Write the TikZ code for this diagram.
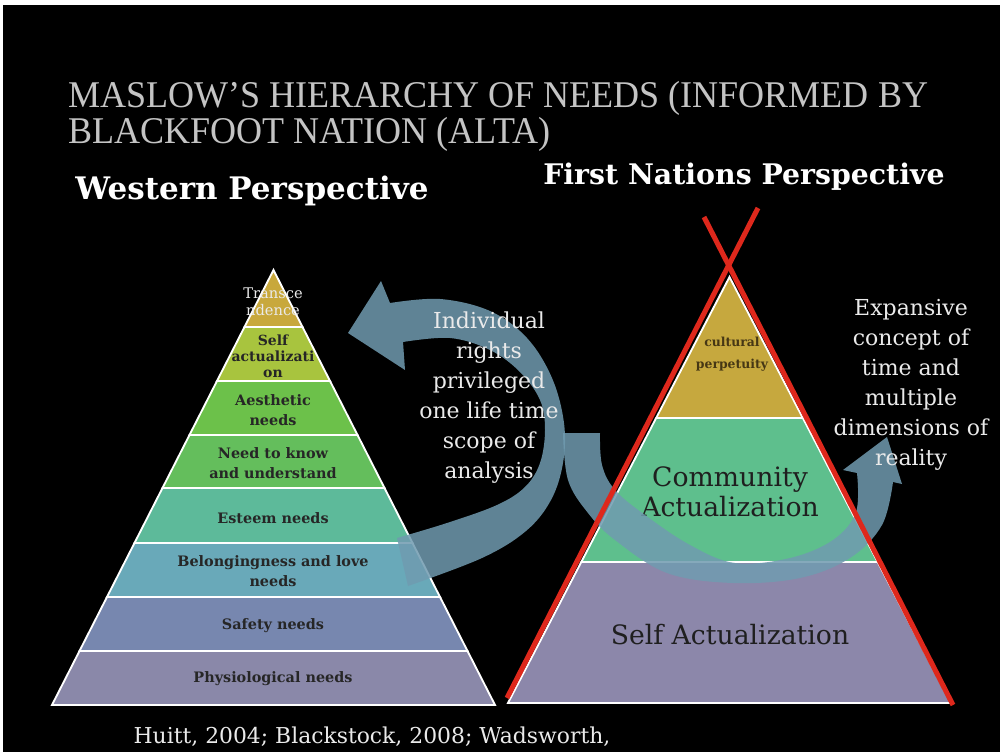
\documentclass[tikz,border=0pt]{standalone}
\usepackage{fontspec}
\usepackage{graphicx}
\newfontfamily\djs{DejaVu Serif}
\newfontfamily\libs{Liberation Serif}
\definecolor{cTrans}{RGB}{200,168,60}
\definecolor{cSelf}{RGB}{168,196,62}
\definecolor{cAes}{RGB}{108,193,74}
\definecolor{cKnow}{RGB}{100,190,92}
\definecolor{cEst}{RGB}{93,186,154}
\definecolor{cBel}{RGB}{105,169,185}
\definecolor{cSaf}{RGB}{119,135,175}
\definecolor{cPhy}{RGB}{138,136,169}
\definecolor{rGold}{RGB}{198,168,62}
\definecolor{rGreen}{RGB}{94,191,141}
\definecolor{rLav}{RGB}{140,135,170}
\definecolor{arrowcol}{RGB}{112,155,176}
\definecolor{redx}{RGB}{222,40,28}
\definecolor{titlegrey}{RGB}{196,196,196}
\definecolor{lbltext}{RGB}{38,38,38}
\definecolor{softwhite}{RGB}{234,234,234}
\tikzset{
  band/.style={draw=white, line width=1.4pt, line join=miter},
  lbl/.style={font=\djs\bfseries\fontsize{10.8}{15}\selectfont, text=lbltext, align=center, inner sep=0pt},
  bigarrow/.style={fill=arrowcol, fill opacity=0.85},
  para/.style={font=\djs\fontsize{16.5}{22.5}\selectfont, text=softwhite, align=center, inner sep=0pt},
  redline/.style={draw=redx, line width=3.8pt},
  bigl/.style={font=\djs\fontsize{20}{22.5}\selectfont, text=black!88, align=center, inner sep=0pt}
}
\begin{document}
\begin{tikzpicture}[x=0.75pt,y=-0.75pt]
\useasboundingbox (0,0) rectangle (1000,756);
\fill[white] (0,0) rectangle (1000,756);
\fill[black] (3,5) rectangle (1000,752);

% headings
\node[anchor=base west, inner sep=0pt, text=titlegrey] (title) at (68,108)
  {\scalebox{0.955}[1]{\libs\fontsize{28.3}{24}\selectfont\begin{tabular}[t]{@{}l@{}}MASLOW’S HIERARCHY OF NEEDS (INFORMED BY\\BLACKFOOT NATION (ALTA)\end{tabular}}};
\node[anchor=base west, inner sep=0pt, text=white] (west) at (75,200)
  {\resizebox{265pt}{!}{\djs\bfseries Western Perspective}};
\node[anchor=base west, inner sep=0pt, text=white] (first) at (543,185)
  {\resizebox{301pt}{!}{\djs\bfseries First Nations Perspective}};

% left pyramid
\foreach \ya/\yb/\c in {270/327/cTrans,327/381/cSelf,381/435/cAes,435/488/cKnow,488/543/cEst,543/597/cBel,597/651/cSaf,651/705/cPhy}{
  \pgfmathsetmacro\wa{(\ya-270)*0.5092}
  \pgfmathsetmacro\wb{(\yb-270)*0.5092}
  \filldraw[band, fill=\c] ({273.5-\wa},\ya) -- ({273.5+\wa},\ya) -- ({273.5+\wb},\yb) -- ({273.5-\wb},\yb) -- cycle;
}
\node[lbl, font=\djs\fontsize{11}{12.5}\selectfont, text=softwhite] (trans) at (273,302) {Transce\\ndence};
\node[lbl, font=\djs\bfseries\fontsize{10.5}{12}\selectfont] (self) at (273,356) {Self\\actualizati\\on};
\node[lbl] (aes) at (273,410) {Aesthetic\\needs};
\node[lbl] (know) at (273,463) {Need to know\\and understand};
\node[lbl] (est) at (273,518) {Esteem needs};
\node[lbl] (bel) at (273,571) {Belongingness and love\\needs};
\node[lbl] (saf) at (273,626) {Safety needs};
\node[lbl] (phy) at (273,679) {Physiological needs};

% right pyramid
\foreach \ya/\yb/\c in {277/418/rGold,418/562/rGreen,562/703/rLav}{
  \pgfmathsetmacro\wa{(\ya-277)*0.52}
  \pgfmathsetmacro\wb{(\yb-277)*0.52}
  \filldraw[band, fill=\c] ({729.5-\wa},\ya) -- ({729.5+\wa},\ya) -- ({729.5+\wb},\yb) -- ({729.5-\wb},\yb) -- cycle;
}
\node[lbl, font=\djs\bfseries\fontsize{9.3}{17}\selectfont, text={rgb,255:red,70;green,55;blue,20}] (cult) at (732,354) {cultural\\perpetuity};
\node[bigl] (comm) at (730,492) {Community\\Actualization};
\node[bigl] (selfa) at (730,635) {Self Actualization};

% arrows
\fill[bigarrow] (563,433) -- (600,433)
  -- plot[smooth, tension=0.6] coordinates {(600,433) (602,465) (615,490) (645,515) (690,545) (735,563) (790,558) (833,540) (856,512) (857,473)}
  -- (843,470) -- (887,437) -- (902,484) -- (893,482)
  -- plot[smooth, tension=0.6] coordinates {(893,482) (882,525) (850,558) (800,578) (733,583) (667,573) (615,540) (588,513) (568,480) (563,433)}
  -- cycle;
\fill[bigarrow] (348,333) -- (381,281) -- (390,303)
  -- plot[smooth, tension=0.6] coordinates {(390,303) (440,299) (490,311) (527,338) (552,378) (564,423) (563,463) (551,500) (526,531) (482,558) (408,586)}
  -- (397,538)
  -- plot[smooth, tension=0.6] coordinates {(397,538) (447,523) (497,505) (525,487) (540,463) (545,430) (540,400) (520,372) (490,350) (450,338) (403,342)}
  -- (405,370) -- cycle;

% texts
\node[para] (indiv) at (489,398) {Individual\\rights\\privileged\\one life time\\scope of\\analysis};
\node[para] (expan) at (911,385) {Expansive\\concept of\\time and\\multiple\\dimensions of\\reality};
\node[inner sep=0pt, text=softwhite, font=\djs\fontsize{16.4}{18}\selectfont] (cite) at (372,737) {Huitt, 2004; Blackstock, 2008; Wadsworth,};

% red X
\coordinate (ra1) at (507,698);
\coordinate (ra2) at (758,208);
\coordinate (rb1) at (953,705);
\coordinate (rb2) at (704,217);
\draw[redline] (ra1) -- (ra2);
\draw[redline] (rb1) -- (rb2);
\end{tikzpicture}
\end{document}
